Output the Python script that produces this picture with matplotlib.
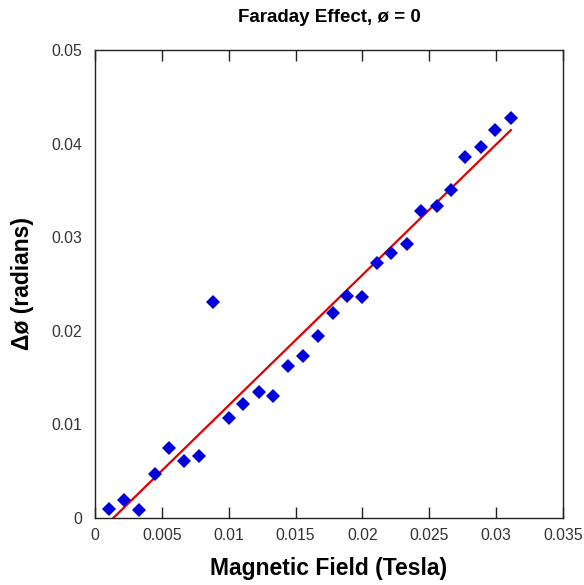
import matplotlib
matplotlib.use("Agg")
import matplotlib.pyplot as plt
import numpy as np

plt.rcParams['font.family'] = ['Liberation Sans', 'DejaVu Sans']

field = [0.00105, 0.00220, 0.00330, 0.00450, 0.00555, 0.00665, 0.00780, 0.00885,
         0.01000, 0.01110, 0.01225, 0.01330, 0.01440, 0.01555, 0.01665, 0.01780,
         0.01885, 0.01995, 0.02110, 0.02215, 0.02335, 0.02440, 0.02555, 0.02665,
         0.02770, 0.02885, 0.02995, 0.03110]
dphi = [0.00096, 0.00190, 0.00085, 0.00470, 0.00750, 0.00610, 0.00665, 0.02305,
        0.01070, 0.01220, 0.01345, 0.01300, 0.01620, 0.01730, 0.01940, 0.02195,
        0.02370, 0.02360, 0.02720, 0.02830, 0.02925, 0.03275, 0.03335, 0.03500,
        0.03855, 0.03960, 0.04145, 0.04275]

fit_slope = 1.394
fit_x0 = 0.00137

xticks = [0, 0.005, 0.01, 0.015, 0.02, 0.025, 0.03, 0.035]
xticklabels = ['0', '0.005', '0.01', '0.015', '0.02', '0.025', '0.03', '0.035']
yticks = [0, 0.01, 0.02, 0.03, 0.04, 0.05]
yticklabels = ['0', '0.01', '0.02', '0.03', '0.04', '0.05']

fig = plt.figure(figsize=(5.84, 5.85), dpi=100)
ax = fig.add_axes([95/584, 1-518/585, (563-95)/584, (518-50)/585])

fx = np.array(field)
fit_y = fit_slope * (fx - fit_x0)
ax.plot(fx, fit_y, color='#e00000', lw=1.6, zorder=2)
ax.plot(field, dphi, linestyle='none', marker='D', markersize=6.8,
        color='#0000dd', markeredgewidth=0, zorder=3)

ax.set_xlim(0, 0.035)
ax.set_ylim(0, 0.05)
ax.set_xticks(xticks)
ax.set_xticklabels(xticklabels)
ax.set_yticks(yticks)
ax.set_yticklabels(yticklabels)
ax.tick_params(axis='x', direction='in', length=8, width=1, top=True, bottom=True,
               labelsize=11.3, labelcolor='#333333', pad=7, color='#222222')
ax.tick_params(axis='y', length=0, labelsize=11.3, labelcolor='#333333', pad=9.5)
for s in ax.spines.values():
    s.set_linewidth(1.0)
    s.set_color('#222222')

ax.set_title('Faraday Effect, ø = 0', fontsize=13.5, fontweight='bold', pad=20)
ax.set_xlabel('Magnetic Field (Tesla)', fontsize=16.5, fontweight='bold', labelpad=10)
ax.set_ylabel('Δø (radians)', fontsize=16.5, fontweight='bold', labelpad=12)

fig.savefig('out.png', dpi=100)
